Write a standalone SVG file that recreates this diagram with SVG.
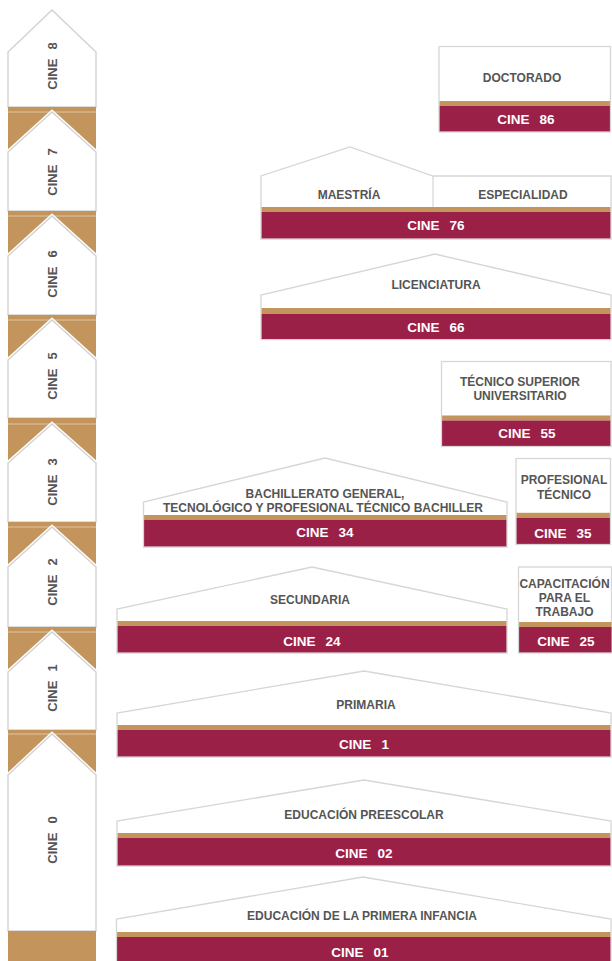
<svg xmlns="http://www.w3.org/2000/svg" width="612" height="961" viewBox="0 0 612 961">
<style>
  .bg{fill:#ffffff}
  .gold{fill:#c3945c}
  .wine{fill:#9b2048}
  .shape{fill:#ffffff;stroke:#d6d6d6;stroke-width:1.3}
  .halo{fill:none;stroke:#ffffff;stroke-width:4;stroke-linejoin:miter}
  .pent{fill:#ffffff;stroke:#d2d2d2;stroke-width:1.4}
  .lbl{font-family:"Liberation Sans",Arial,sans-serif;font-weight:700;font-size:12px;fill:#555555;text-anchor:middle}
  .cine{font-family:"Liberation Sans",Arial,sans-serif;font-weight:700;font-size:13.5px;fill:#ffffff;text-anchor:middle}
  .side{font-family:"Liberation Sans",Arial,sans-serif;font-weight:700;font-size:13px;fill:#555555;text-anchor:middle}
  .sep{stroke:#d6d6d6;stroke-width:1.2}
  .gl{stroke:#e6d2b6;stroke-width:0.8}
</style>
<rect class="bg" x="0" y="0" width="612" height="961"/>

<!-- Left column -->
<g id="col-cine8">
  <polygon class="pent" points="8,107 8,52 52,10 96,52 96,107"/>
  <text class="side" transform="translate(52,66) rotate(-90)" y="4.7">CINE<tspan dx="9">8</tspan></text>
</g>
<g id="col-cine7">
  <rect class="gold" x="8" y="107" width="88" height="45"/>
  <line class="gl" x1="8" y1="112" x2="96" y2="112"/>
  <polygon class="halo" points="8,211 8,152 52,112 96,152 96,211"/>
  <polygon class="pent" points="8,211 8,152 52,112 96,152 96,211"/>
  <text class="side" transform="translate(52,172) rotate(-90)" y="4.7">CINE<tspan dx="9">7</tspan></text>
</g>
<g id="col-cine6">
  <rect class="gold" x="8" y="211" width="88" height="45"/>
  <line class="gl" x1="8" y1="216" x2="96" y2="216"/>
  <polygon class="halo" points="8,315 8,256 52,216 96,256 96,315"/>
  <polygon class="pent" points="8,315 8,256 52,216 96,256 96,315"/>
  <text class="side" transform="translate(52,274) rotate(-90)" y="4.7">CINE<tspan dx="9">6</tspan></text>
</g>
<g id="col-cine5">
  <rect class="gold" x="8" y="315" width="88" height="45"/>
  <line class="gl" x1="8" y1="320" x2="96" y2="320"/>
  <polygon class="halo" points="8,418 8,360 52,320 96,360 96,418"/>
  <polygon class="pent" points="8,418 8,360 52,320 96,360 96,418"/>
  <text class="side" transform="translate(52,376) rotate(-90)" y="4.7">CINE<tspan dx="9">5</tspan></text>
</g>
<g id="col-cine3">
  <rect class="gold" x="8" y="418" width="88" height="45"/>
  <line class="gl" x1="8" y1="424" x2="96" y2="424"/>
  <polygon class="halo" points="8,522 8,463 52,424 96,463 96,522"/>
  <polygon class="pent" points="8,522 8,463 52,424 96,463 96,522"/>
  <text class="side" transform="translate(52,482) rotate(-90)" y="4.7">CINE<tspan dx="9">3</tspan></text>
</g>
<g id="col-cine2">
  <rect class="gold" x="8" y="522" width="88" height="45"/>
  <line class="gl" x1="8" y1="527" x2="96" y2="527"/>
  <polygon class="halo" points="8,627 8,567 52,527 96,567 96,627"/>
  <polygon class="pent" points="8,627 8,567 52,527 96,567 96,627"/>
  <text class="side" transform="translate(52,582) rotate(-90)" y="4.7">CINE<tspan dx="9">2</tspan></text>
</g>
<g id="col-cine1">
  <rect class="gold" x="8" y="627" width="88" height="45"/>
  <line class="gl" x1="8" y1="632" x2="96" y2="632"/>
  <polygon class="halo" points="8,730 8,672 52,632 96,672 96,730"/>
  <polygon class="pent" points="8,730 8,672 52,632 96,672 96,730"/>
  <text class="side" transform="translate(52,688) rotate(-90)" y="4.7">CINE<tspan dx="9">1</tspan></text>
</g>
<g id="col-cine0">
  <rect class="gold" x="8" y="730" width="88" height="45"/>
  <line class="gl" x1="8" y1="734" x2="96" y2="734"/>
  <polygon class="halo" points="8,931 8,775 52,734 96,775 96,931"/>
  <polygon class="pent" points="8,931 8,775 52,734 96,775 96,931"/>
  <text class="side" transform="translate(52,840) rotate(-90)" y="4.7">CINE<tspan dx="9">0</tspan></text>
  <rect class="gold" x="8" y="931" width="88" height="30"/>
</g>

<!-- Right blocks -->
<g id="doctorado">
  <rect class="shape" x="439" y="46.5" width="171.5" height="85.5"/>
  <rect class="gold" x="439.6" y="101" width="170.3" height="5"/>
  <rect class="wine" x="439.6" y="106" width="170.3" height="25.4"/>
  <text class="lbl" x="522" y="82.3">DOCTORADO</text>
  <text class="cine" x="526" y="124">CINE<tspan dx="10">86</tspan></text>
</g>

<g id="maestria-especialidad">
  <polygon class="shape" points="261,239 261,176 350,147 433,176 611,176 611,239"/>
  <line class="sep" x1="433" y1="176" x2="433" y2="207"/>
  <rect class="gold" x="261.6" y="207" width="348.8" height="5"/>
  <rect class="wine" x="261.6" y="212" width="348.8" height="26.4"/>
  <text class="lbl" x="349" y="199.3">MAESTRÍA</text>
  <text class="lbl" x="523" y="199.3">ESPECIALIDAD</text>
  <text class="cine" x="436" y="230">CINE<tspan dx="10">76</tspan></text>
</g>

<g id="licenciatura">
  <polygon class="shape" points="261,339.5 261,295 435,254 611,295 611,339.5"/>
  <rect class="gold" x="261.6" y="308" width="348.8" height="6"/>
  <rect class="wine" x="261.6" y="314" width="348.8" height="25"/>
  <text class="lbl" x="436" y="289.3">LICENCIATURA</text>
  <text class="cine" x="436" y="331.5">CINE<tspan dx="10">66</tspan></text>
</g>

<g id="tsu">
  <rect class="shape" x="441.5" y="361.5" width="169.5" height="85"/>
  <rect class="gold" x="442.1" y="415.5" width="168.3" height="5"/>
  <rect class="wine" x="442.1" y="420.5" width="168.3" height="25.4"/>
  <text class="lbl" x="520" y="386">TÉCNICO SUPERIOR</text>
  <text class="lbl" x="520" y="400.3">UNIVERSITARIO</text>
  <text class="cine" x="527" y="438">CINE<tspan dx="10">55</tspan></text>
</g>

<g id="bachillerato">
  <polygon class="shape" points="143.5,547 143.5,502 325,458 507,502 507,547"/>
  <rect class="gold" x="144.1" y="515" width="362.3" height="4.8"/>
  <rect class="wine" x="144.1" y="519.8" width="362.3" height="26.6"/>
  <text class="lbl" x="325" y="497.5">BACHILLERATO GENERAL,</text>
  <text class="lbl" x="323" y="511.5">TECNOLÓGICO Y PROFESIONAL TÉCNICO BACHILLER</text>
  <text class="cine" x="325" y="537">CINE<tspan dx="10">34</tspan></text>
</g>

<g id="profesional-tecnico">
  <rect class="shape" x="516" y="458.5" width="94.5" height="86"/>
  <rect class="gold" x="516.6" y="512.8" width="93.3" height="5"/>
  <rect class="wine" x="516.6" y="517.8" width="93.3" height="26.1"/>
  <text class="lbl" x="564" y="484.3">PROFESIONAL</text>
  <text class="lbl" x="564" y="499.3">TÉCNICO</text>
  <text class="cine" x="563" y="538">CINE<tspan dx="10">35</tspan></text>
</g>

<g id="secundaria">
  <polygon class="shape" points="117,653 117,609 312,567 507,609 507,653"/>
  <rect class="gold" x="117.6" y="621" width="388.8" height="5"/>
  <rect class="wine" x="117.6" y="626" width="388.8" height="26.4"/>
  <text class="lbl" x="310" y="604.3">SECUNDARIA</text>
  <text class="cine" x="312" y="646">CINE<tspan dx="10">24</tspan></text>
</g>

<g id="capacitacion">
  <rect class="shape" x="518.5" y="567" width="93" height="86"/>
  <rect class="gold" x="519.1" y="622" width="92.4" height="5"/>
  <rect class="wine" x="519.1" y="627" width="92.4" height="25.4"/>
  <text class="lbl" x="564.5" y="588.3">CAPACITACIÓN</text>
  <text class="lbl" x="564.5" y="602">PARA EL</text>
  <text class="lbl" x="564.5" y="615.5">TRABAJO</text>
  <text class="cine" x="566" y="645.5">CINE<tspan dx="10">25</tspan></text>
</g>

<g id="primaria">
  <polygon class="shape" points="117,757 117,713 364,671 611,713 611,757"/>
  <rect class="gold" x="117.6" y="725" width="492.8" height="5"/>
  <rect class="wine" x="117.6" y="730" width="492.8" height="26.4"/>
  <text class="lbl" x="366" y="709.3">PRIMARIA</text>
  <text class="cine" x="364" y="749">CINE<tspan dx="10">1</tspan></text>
</g>

<g id="preescolar">
  <polygon class="shape" points="117,866 117,821 364,780 611,821 611,866"/>
  <rect class="gold" x="117.6" y="833" width="492.8" height="5"/>
  <rect class="wine" x="117.6" y="838" width="492.8" height="27.4"/>
  <text class="lbl" x="364" y="819.3">EDUCACIÓN PREESCOLAR</text>
  <text class="cine" x="364" y="858">CINE<tspan dx="10">02</tspan></text>
</g>

<g id="primera-infancia">
  <polygon class="shape" points="116.5,962 116.5,919 363,877 611,919 611,962"/>
  <rect class="gold" x="117.1" y="932" width="493.3" height="5"/>
  <rect class="wine" x="117.1" y="937" width="493.3" height="24"/>
  <text class="lbl" x="362" y="920.3">EDUCACIÓN DE LA PRIMERA INFANCIA</text>
  <text class="cine" x="360" y="957">CINE<tspan dx="10">01</tspan></text>
</g>
</svg>
